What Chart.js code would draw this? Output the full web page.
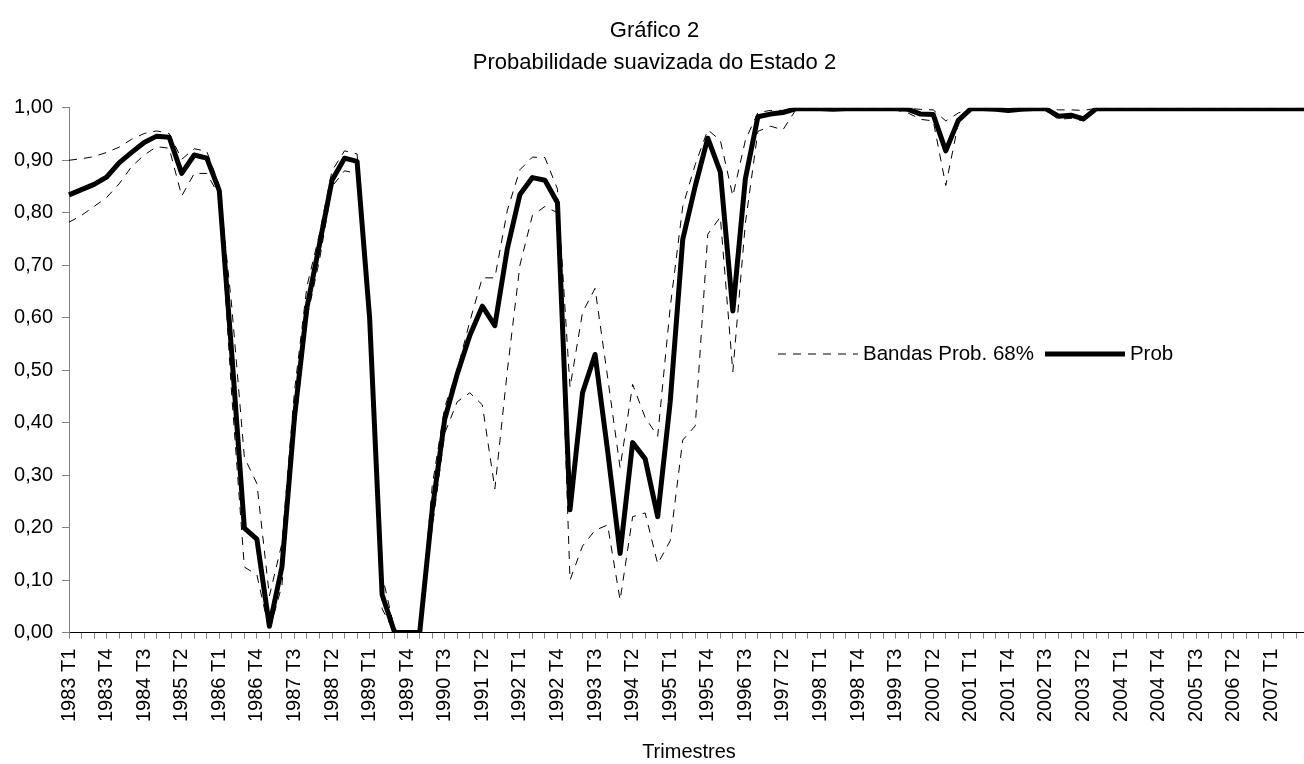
<!DOCTYPE html>
<html lang="pt">
<head>
<meta charset="utf-8">
<title>Gráfico 2</title>
<script src="https://cdn.jsdelivr.net/npm/chart.js@4.4.1/dist/chart.umd.min.js"></script>
<style>
  html, body { margin: 0; padding: 0; background: #fff; overflow: hidden; }
  #wrap { position: relative; width: 1314px; height: 764px; }
</style>
</head>
<body>
<div id="wrap"><canvas id="chart"></canvas></div>
<script>
const FIRST_YEAR = 1983;
const LAST_YEAR = 2007;
const QUARTERS = ['T1', 'T2', 'T3', 'T4'];

const quarterLabels = [];
for (let y = FIRST_YEAR; y <= LAST_YEAR; y++) {
  QUARTERS.forEach(q => quarterLabels.push(y + ' ' + q));
}

// smoothed probability of state 2, one value per quarter (1983 T1 .. 2007 T4)
const prob = [
  0.834, 0.844, 0.854, 0.868, 0.895, 0.915, 0.934, 0.946, 0.944, 0.875,
  0.910, 0.904, 0.842, 0.530, 0.199, 0.178, 0.012, 0.125, 0.410, 0.620,
  0.740, 0.862, 0.904, 0.898, 0.600, 0.072, 0.000, 0.000, 0.000, 0.234,
  0.407, 0.493, 0.566, 0.622, 0.585, 0.732, 0.835, 0.867, 0.862, 0.819,
  0.234, 0.457, 0.530, 0.347, 0.151, 0.362, 0.331, 0.221, 0.440, 0.749,
  0.851, 0.942, 0.878, 0.613, 0.865, 0.983, 0.988, 0.991, 0.998, 0.998,
  0.998, 0.997, 0.998, 0.998, 0.998, 0.998, 0.998, 0.997, 0.988, 0.987,
  0.918, 0.976, 0.998, 0.998, 0.997, 0.995, 0.997, 0.998, 0.998, 0.984,
  0.986, 0.979, 0.998, 0.998, 0.998, 0.998, 0.998, 0.998, 0.998, 0.998,
  0.998, 0.998, 0.998, 0.998, 0.998, 0.998, 0.998, 0.998, 0.998, 0.998
];

// 68% probability bands
const upperBand = [
  0.900, 0.903, 0.907, 0.915, 0.925, 0.940, 0.951, 0.956, 0.951, 0.902,
  0.922, 0.917, 0.852, 0.620, 0.334, 0.284, 0.070, 0.170, 0.460, 0.660,
  0.760, 0.880, 0.918, 0.912, 0.610, 0.110, 0.005, 0.001, 0.001, 0.280,
  0.430, 0.500, 0.593, 0.676, 0.676, 0.805, 0.882, 0.906, 0.905, 0.845,
  0.467, 0.610, 0.656, 0.487, 0.314, 0.473, 0.410, 0.374, 0.620, 0.812,
  0.892, 0.958, 0.938, 0.832, 0.938, 0.991, 0.995, 0.995, 0.999, 0.999,
  0.999, 0.999, 0.999, 0.999, 0.999, 0.999, 0.999, 0.999, 0.997, 0.996,
  0.975, 0.990, 0.999, 0.999, 0.999, 0.999, 0.999, 0.999, 0.999, 0.996,
  0.996, 0.995, 0.999, 0.999, 0.999, 0.999, 0.999, 0.999, 0.999, 0.999,
  0.999, 0.999, 0.999, 0.999, 0.999, 0.999, 0.999, 0.999, 0.999, 0.999
];

const lowerBand = [
  0.782, 0.795, 0.812, 0.829, 0.855, 0.888, 0.910, 0.926, 0.923, 0.832,
  0.875, 0.875, 0.832, 0.450, 0.125, 0.110, 0.003, 0.090, 0.380, 0.600,
  0.710, 0.850, 0.880, 0.875, 0.590, 0.045, 0.000, 0.000, 0.000, 0.200,
  0.380, 0.440, 0.457, 0.434, 0.274, 0.500, 0.700, 0.795, 0.812, 0.800,
  0.100, 0.165, 0.195, 0.205, 0.062, 0.221, 0.228, 0.131, 0.175, 0.367,
  0.394, 0.759, 0.792, 0.497, 0.780, 0.955, 0.965, 0.958, 0.995, 0.996,
  0.996, 0.996, 0.996, 0.996, 0.996, 0.996, 0.996, 0.990, 0.978, 0.975,
  0.852, 0.970, 0.995, 0.996, 0.996, 0.994, 0.996, 0.996, 0.995, 0.978,
  0.980, 0.975, 0.995, 0.996, 0.996, 0.996, 0.996, 0.996, 0.996, 0.996,
  0.996, 0.996, 0.996, 0.996, 0.996, 0.996, 0.996, 0.996, 0.996, 0.996
];

const FONT = "'Liberation Sans', Arial, sans-serif";

// Excel-style legend sitting inside the plot: one entry for both bands
const bandLegend = {
  id: 'bandLegend',
  afterDraw(chart, args, opts) {
    const ctx = chart.ctx;
    ctx.save();
    ctx.font = opts.fontSize + 'px ' + FONT;
    ctx.fillStyle = '#000';
    ctx.textBaseline = 'middle';
    let x = opts.x;
    const y = opts.y;
    opts.items.forEach(item => {
      const ds = chart.data.datasets[item.dataset];
      ctx.beginPath();
      ctx.setLineDash(ds.borderDash || []);
      ctx.lineWidth = ds.borderWidth;
      ctx.strokeStyle = ds.borderColor;
      ctx.moveTo(x, y);
      ctx.lineTo(x + opts.sampleWidth, y);
      ctx.stroke();
      ctx.setLineDash([]);
      x += opts.sampleWidth + opts.gap;
      ctx.fillText(item.text, x, y);
      x += ctx.measureText(item.text).width + opts.itemGap;
    });
    ctx.restore();
  }
};

const ctx = document.getElementById('chart').getContext('2d');
new Chart(ctx, {
  type: 'line',
  data: {
    labels: quarterLabels,
    datasets: [
      {
        label: 'Bandas Prob. 68%',
        data: upperBand,
        borderColor: '#000',
        borderWidth: 1,
        borderDash: [8, 7],
        pointRadius: 0,
        tension: 0,
        fill: false,
      },
      {
        label: 'Bandas Prob. 68% (inf)',
        data: lowerBand,
        borderColor: '#000',
        borderWidth: 1,
        borderDash: [8, 7],
        pointRadius: 0,
        tension: 0,
        fill: false,
      },
      {
        label: 'Prob',
        data: prob,
        borderColor: '#000',
        borderWidth: 5,
        borderJoinStyle: 'round',
        pointRadius: 0,
        tension: 0,
        fill: false,
      },
    ],
  },
  options: {
    responsive: true,
    maintainAspectRatio: false,
    animation: false,
    layout: {
      padding: { left: 0, right: 5, top: 0, bottom: 0 },
    },
    plugins: {
      legend: { display: false },
      tooltip: { enabled: false },
      title: {
        display: true,
        text: ['Gráfico 2', 'Probabilidade suavizada do Estado 2'],
        color: '#000',
        font: { family: FONT, size: 22, weight: 'normal', lineHeight: 1.45 },
        padding: { top: 15, bottom: 29 },
      },
      bandLegend: {
        x: 778,
        y: 354,
        fontSize: 20.5,
        sampleWidth: 80,
        gap: 5,
        itemGap: 11,
        items: [
          { dataset: 0, text: 'Bandas Prob. 68%' },
          { dataset: 2, text: 'Prob' },
        ],
      },
    },
    scales: {
      x: {
        type: 'category',
        offset: false,
        // plot runs to the right edge like the original, no room kept for the last label
        afterFit: function(scale) {
          scale.paddingLeft = 0;
          scale.paddingRight = 0;
        },
        border: { display: true, color: '#000', width: 1 },
        grid: {
          drawOnChartArea: false,
          drawTicks: true,
          tickLength: 6,
          color: '#808080',
        },
        ticks: {
          autoSkip: false,
          maxRotation: 90,
          minRotation: 90,
          padding: 10,
          color: '#000',
          font: { family: FONT, size: 20 },
          callback: function(value, index) {
            if (index % 3 !== 0 || index === quarterLabels.length - 1) return '';
            return quarterLabels[index];
          },
        },
        title: {
          display: true,
          text: 'Trimestres',
          color: '#000',
          font: { family: FONT, size: 20 },
          padding: { top: 8, bottom: 0 },
        },
      },
      y: {
        min: 0,
        max: 1,
        afterFit: function(scale) {
          scale.width = 69;
        },
        border: { display: true, color: '#808080', width: 1 },
        grid: {
          drawOnChartArea: false,
          drawTicks: true,
          tickLength: 7,
          color: '#808080',
        },
        ticks: {
          stepSize: 0.1,
          padding: 9,
          color: '#000',
          font: { family: FONT, size: 20 },
          callback: function(value) {
            return value.toFixed(2).replace('.', ',');
          },
        },
      },
    },
  },
  plugins: [bandLegend],
});
</script>
</body>
</html>
